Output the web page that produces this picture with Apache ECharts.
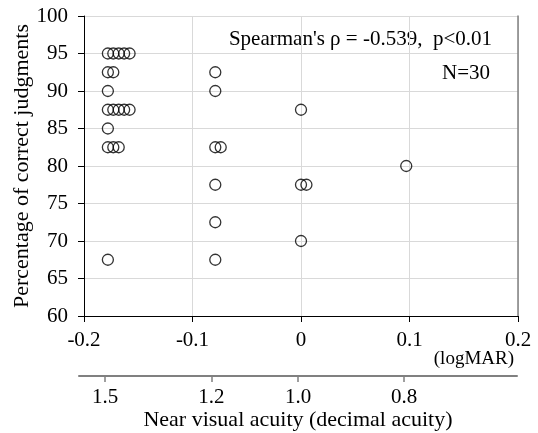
<!DOCTYPE html>
<html>
<head>
<meta charset="utf-8">
<script src="https://cdn.jsdelivr.net/npm/echarts@6/dist/echarts.min.js"></script>
<style>html,body{margin:0;padding:0;background:#fff}#c{width:538px;height:433px}</style>
</head>
<body>
<div id="c"></div>
<script>
// logMAR (x) and percentage of correct judgments (y), one entry per participant
const xLogMAR = [
  -0.178, -0.173, -0.168, -0.163, -0.158,
  -0.178, -0.173,
  -0.178,
  -0.178, -0.173, -0.168, -0.163, -0.158,
  -0.178,
  -0.178, -0.173, -0.168,
  -0.178,
  -0.079, -0.079, -0.079, -0.074, -0.079, -0.079, -0.079,
  0, 0, 0.005, 0,
  0.097
];
const yPercent = [
  95, 95, 95, 95, 95,
  92.5, 92.5,
  90,
  87.5, 87.5, 87.5, 87.5, 87.5,
  85,
  82.5, 82.5, 82.5,
  67.5,
  92.5, 90, 82.5, 82.5, 77.5, 72.5, 67.5,
  87.5, 77.5, 77.5, 70,
  80
];
const yTicks = [60, 65, 70, 75, 80, 85, 90, 95, 100];
const xTicks = [-0.2, -0.1, 0, 0.1, 0.2];
const decimalTicks = [1.5, 1.2, 1.0, 0.8];
const statText = "Spearman's \u03c1 = -0.539,  p<0.01";
const nText = "N=30";

const FONT = "'Liberation Serif','Times New Roman',serif";
const FS = 21;
const FT = 22;
const points = xLogMAR.map((x, i) => [x, yPercent[i]]);
const decimalPos = decimalTicks.map(d => -Math.log10(d));

const chart = echarts.init(document.getElementById('c'), null, {renderer: 'canvas'});
chart.setOption({
  animation: false,
  backgroundColor: '#fff',
  textStyle: {fontFamily: FONT},
  grid: [
    {left: 84, right: 20, top: 16, bottom: 117, containLabel: false, outerBoundsMode: 'none'},
    {left: 79, right: 21, top: 300, bottom: 57, containLabel: false, outerBoundsMode: 'none'}
  ],
  xAxis: [
    {
      gridIndex: 0, type: 'value', min: xTicks[0], max: xTicks[xTicks.length - 1], interval: 0.1,
      axisLine: {onZero: false, lineStyle: {color: '#000', width: 1}},
      axisTick: {show: true, length: 6, inside: false, lineStyle: {color: '#000'}},
      axisLabel: {color: '#000', fontSize: FS, fontFamily: FONT, margin: 14,
        formatter: v => { const r = Math.round(v * 10) / 10; return r === 0 ? '0' : String(r); }},
      splitLine: {show: true, lineStyle: {color: '#d9d9d9', width: 1}}
    },
    {
      gridIndex: 1, type: 'value', min: -0.2, max: 0.2,
      axisLine: {onZero: false, lineStyle: {color: '#808080', width: 2}},
      axisTick: {show: true, length: 6, customValues: decimalPos, lineStyle: {color: '#808080', width: 1.5}},
      axisLabel: {color: '#000', fontSize: FS, fontFamily: FONT, margin: 11, customValues: decimalPos,
        formatter: v => {
          const i = decimalPos.findIndex(p => Math.abs(p - v) < 1e-6);
          return i >= 0 ? decimalTicks[i].toFixed(1) : '';
        }},
      splitLine: {show: false},
      name: 'Near visual acuity (decimal acuity)', nameLocation: 'middle', nameGap: 33,
      nameMoveOverlap: false,
      nameTextStyle: {color: '#000', fontSize: FT, fontFamily: FONT}
    }
  ],
  yAxis: [
    {
      gridIndex: 0, type: 'value', min: yTicks[0], max: yTicks[yTicks.length - 1], interval: 5,
      axisLine: {show: true, onZero: false, lineStyle: {color: '#000', width: 1}},
      axisTick: {show: true, length: 6, lineStyle: {color: '#000'}},
      axisLabel: {color: '#000', fontSize: FS, fontFamily: FONT, margin: 16},
      splitLine: {show: true, lineStyle: {color: '#d9d9d9', width: 1}},
      name: 'Percentage of correct judgments', nameLocation: 'middle', nameGap: 51,
      nameMoveOverlap: false,
      nameTextStyle: {color: '#000', fontSize: FT, fontFamily: FONT}
    },
    {
      gridIndex: 0, type: 'value', position: 'right', min: 60, max: 100,
      axisLine: {show: true, onZero: false, lineStyle: {color: '#808080', width: 1.5}},
      axisTick: {show: false}, axisLabel: {show: false}, splitLine: {show: false}
    },
    {gridIndex: 1, type: 'value', show: false}
  ],
  graphic: [
    {type: 'text', right: 46, top: 29, style: {text: statText, font: FS + 'px ' + FONT, fill: '#000'}},
    {type: 'text', right: 48, top: 63, style: {text: nText, font: FS + 'px ' + FONT, fill: '#000'}},
    {type: 'text', right: 24, top: 350, style: {text: '(logMAR)', font: '19px ' + FONT, fill: '#000'}}
  ],
  series: [{
    type: 'scatter', xAxisIndex: 0, yAxisIndex: 0,
    data: points,
    symbol: 'circle', symbolSize: 11,
    itemStyle: {color: 'rgba(255,255,255,0)', borderColor: '#000', borderWidth: 1.3},
    emphasis: {disabled: true}
  }]
});
</script>
</body>
</html>
